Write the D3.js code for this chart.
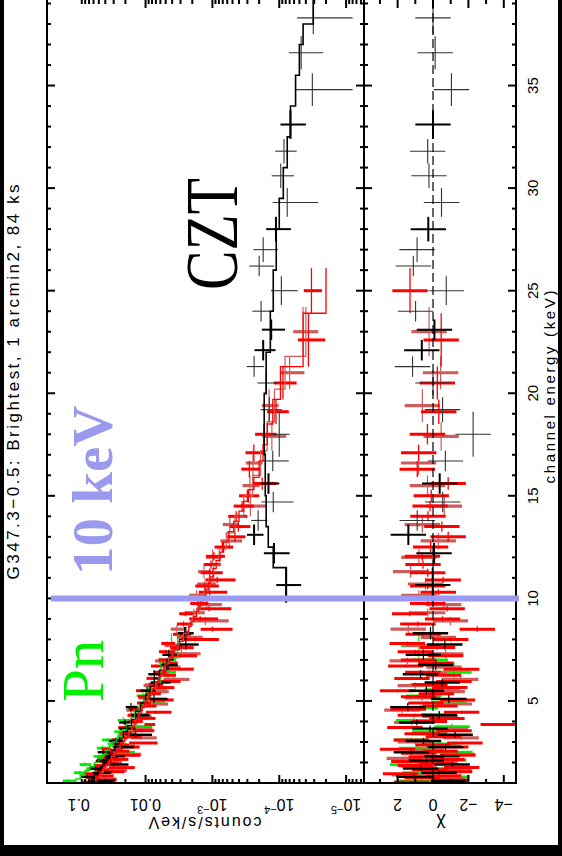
<!DOCTYPE html>
<html>
<head>
<meta charset="utf-8">
<script src="https://cdn.jsdelivr.net/npm/d3@7"></script>
<style>
  body { margin: 0; background: #000; }
  svg { display: block; }
</style>
</head>
<body>
<svg width="562" height="856"></svg>
<script>
// rows: [energy keV, half bin width, counts/s/keV, error, model]
var redRows = [
  [1.05,.05,0.073,0.014,0.056],[1.15,.05,0.0405,0.0135,0.054],[1.25,.05,0.060,0.013,0.052],
  [1.35,.05,0.0425,0.0125,0.050],[1.45,.05,0.070,0.012,0.048],[1.55,.05,0.032,0.0115,0.046],
  [1.65,.05,0.046,0.011,0.044],[1.75,.05,0.025,0.0105,0.042],[1.85,.05,0.050,0.010,0.040],
  [1.95,.05,0.035,0.0093,0.037],[2.05,.05,0.047,0.0088,0.035],[2.15,.05,0.0264,0.0083,0.033],
  [2.25,.05,0.034,0.0078,0.031],[2.35,.05,0.0195,0.0075,0.030],[2.45,.05,0.0336,0.007,0.028],
  [2.55,.05,0.0243,0.0068,0.027],[2.65,.05,0.039,0.0065,0.026],[2.75,.05,0.0184,0.0061,0.0245],
  [2.85,.05,0.0235,0.0059,0.0235],[2.95,.05,0.0121,0.0055,0.022],[3.1,.075,0.0267,0.0051,0.0205],
  [3.25,.075,0.0162,0.0048,0.019],[3.4,.075,0.0204,0.0044,0.0177],[3.55,.075,0.0116,0.0042,0.0166],
  [3.7,.075,0.0218,0.0039,0.0156],[3.85,.075,0.0088,0.0016,0.0147],[4.0,.075,0.0144,0.0034,0.0137],
  [4.15,.075,0.0104,0.0033,0.013],[4.3,.075,0.0155,0.0031,0.0124],[4.45,.075,0.0070,0.0029,0.0117],
  [4.6,.075,0.0151,0.0028,0.0112],[4.75,.075,0.0095,0.0026,0.0105],[4.9,.075,0.0109,0.0025,0.0099],
  [5.05,.075,0.0062,0.0024,0.0095],[5.2,.075,0.0107,0.0022,0.0089],[5.35,.075,0.0080,0.0021,0.0084],
  [5.5,.075,0.0119,0.0020,0.0079],[5.65,.075,0.0056,0.0019,0.0074],[5.8,.075,0.0072,0.0017,0.0069],
  [5.95,.075,0.0046,0.0016,0.0065],[6.1,.075,0.0081,0.0016,0.0062],[6.25,.075,0.0050,0.0015,0.0059],
  [6.4,.075,0.0063,0.0014,0.0055],[6.55,.075,0.0032,0.0013,0.0053],[6.7,.075,0.0070,0.0013,0.0050],
  [6.85,.075,0.0045,0.0012,0.0047],[7.0,.075,0.0053,0.0011,0.0044],[7.2,.1,0.0031,0.0014,0.0041],
  [7.4,.1,0.0050,0.0013,0.0037],[7.6,.1,0.0031,0.0012,0.0034],[7.8,.1,0.0047,0.0011,0.0031],
  [8.0,.1,0.0018,0.0010,0.0028],[8.25,.125,0.0030,0.0009,0.0025],[8.5,.125,0.0010,0.0005,0.00225],
  [8.75,.125,0.0027,0.0007,0.0021],[9.0,.125,0.00152,0.0007,0.0019],[9.25,.125,0.00254,0.0006,0.00175],
  [9.5,.125,0.00112,0.0006,0.0016],[9.75,.125,0.00165,0.0005,0.0015],[10.0,.125,0.00119,0.0005,0.0014],
  [10.3,.15,0.0011,0.0005,0.00125],[10.6,.15,0.0013,0.0005,0.00115],[10.9,.15,0.00085,0.0004,0.00108],
  [11.25,.2,0.0011,0.0004,0.00098],[11.65,.2,0.00105,0.0003,0.00088],[12.05,.2,0.00095,0.0003,0.00077],
  [12.5,.25,0.00071,0.00022,0.00068],[13.0,.25,0.00046,0.00014,0.00058],[13.5,.25,0.00041,0.00014,0.00048],
  [14.0,.25,0.00044,0.00014,0.00040],[14.5,.25,0.00036,0.00012,0.00034],[15.0,.3,0.00030,0.0001,0.00029],
  [15.6,.3,0.00018,0.00007,0.00024],[16.3,.4,0.00028,0.00009,0.00020],[17.1,.4,0.00024,0.00008,0.000175],
  [18.0,.5,0.00017,0.00006,0.000151],[19.1,.6,0.000112,0.00004,0.000125],[20.5,.8,8.8e-5,3.3e-5,9.6e-5],
  [22.6,1.3,3.66e-5,1.6e-5,4.4e-5],[25.0,1.1,3.3e-5,1.0e-5,2.0e-5]
];
var pinkRows = [
  [1.2,.1,0.040,0.0125,0.050],[1.4,.1,0.063,0.012,0.047],[1.6,.1,0.030,0.011,0.043],
  [1.8,.1,0.047,0.010,0.039],[2.0,.1,0.0315,0.009,0.035],[2.2,.1,0.045,0.008,0.032],
  [2.4,.1,0.0189,0.0073,0.029],[2.6,.1,0.029,0.0066,0.0265],[2.8,.1,0.0204,0.006,0.024],
  [3.0,.1,0.0269,0.0054,0.0215],[3.2,.1,0.0117,0.0049,0.0195],[3.4,.1,0.0187,0.0045,0.0178],
  [3.65,.15,0.0119,0.004,0.0158],[3.95,.15,0.0182,0.0035,0.014],[4.25,.15,0.0113,0.0032,0.0126],
  [4.55,.15,0.0165,0.0029,0.0114],[4.85,.15,0.0071,0.0025,0.0101],[5.15,.15,0.0105,0.0023,0.0091],
  [5.45,.15,0.0065,0.002,0.0081],[5.75,.15,0.0089,0.0018,0.0071],[6.05,.15,0.0038,0.0016,0.0063],
  [6.35,.15,0.0059,0.0014,0.0056],[6.65,.15,0.0043,0.0013,0.0051],[6.95,.15,0.0061,0.0011,0.0045],
  [7.3,.2,0.0029,0.0014,0.0039],[7.7,.2,0.0040,0.0012,0.0033],[8.1,.2,0.0024,0.0010,0.0027],
  [8.5,.2,0.0034,0.0008,0.00228],[8.9,.2,0.00127,0.0007,0.00196],[9.3,.2,0.0019,0.0006,0.00172],
  [9.7,.2,0.00122,0.0005,0.00152],[10.15,.25,0.00173,0.0005,0.00133],[10.7,.3,0.00129,0.0004,0.00112],
  [11.3,.3,0.00134,0.0003,0.00096],[12.0,.4,0.00099,0.00025,0.00079],[12.8,.4,0.00056,0.0002,0.00062],
  [13.6,.4,0.00055,0.00015,0.00046],[14.5,.5,0.00027,0.00011,0.00034],[15.5,.5,0.000275,0.00008,0.00025],
  [16.6,.6,0.000247,0.00007,0.00019],[17.9,.7,0.000129,0.00005,0.000152],[19.4,.8,0.000142,0.00004,0.000118],
  [21.0,.8,7.0e-5,2.8e-5,8.2e-5],[23.0,1.2,4.4e-5,1.8e-5,4.0e-5]
];
var greenRows = [
  [1.1,.1,0.143,0.031,0.11],[1.3,.1,0.0665,0.027,0.095],[1.5,.1,0.096,0.022,0.080],
  [1.7,.1,0.058,0.019,0.068],[1.9,.1,0.081,0.016,0.058],[2.1,.1,0.0375,0.014,0.050],
  [2.3,.1,0.048,0.012,0.044],[2.5,.1,0.0254,0.011,0.039],[2.7,.1,0.044,0.0098,0.035],
  [2.9,.1,0.028,0.0087,0.031],[3.1,.1,0.037,0.0077,0.0275],[3.3,.1,0.0196,0.0069,0.0245],
  [3.5,.1,0.0231,0.0062,0.022],[3.75,.15,0.0133,0.0053,0.019],[4.05,.15,0.0215,0.0046,0.0165],
  [4.35,.15,0.0131,0.0041,0.0145],[4.65,.15,0.015,0.0035,0.0125],[4.95,.15,0.0081,0.003,0.0108],
  [5.25,.15,0.0109,0.0027,0.0095],[5.55,.15,0.0071,0.0023,0.0083],[5.8,.1,0.0081,0.0021,0.0074],
  [6.4,.5,0.0046,0.0011,0.0059],[7.0,.1,0.0048,0.0013,0.0046],[7.7,.6,0.0041,0.0010,0.0033]
];
var blackRows = [
  [1.1,.1,0.049,0.018,0.065],[1.3,.1,0.075,0.016,0.058],[1.5,.1,0.047,0.0145,0.052],
  [1.7,.1,0.056,0.013,0.047],[1.9,.1,0.030,0.012,0.043],[2.1,.1,0.043,0.011,0.039],
  [2.3,.1,0.030,0.0098,0.035],[2.5,.1,0.043,0.009,0.032],[2.75,.15,0.0228,0.008,0.0285],
  [3.05,.15,0.0282,0.0069,0.0245],[3.35,.15,0.014,0.006,0.0215],[3.65,.15,0.0194,0.0052,0.0185],
  [3.95,.15,0.0203,0.0045,0.0162],[4.3,.2,0.0126,0.0039,0.014],[4.7,.2,0.0165,0.0033,0.0118],
  [5.1,.2,0.0075,0.0028,0.010],[5.5,.2,0.0095,0.0024,0.0086],[5.9,.2,0.0063,0.0021,0.0074],
  [6.3,.2,0.0074,0.0017,0.0062],[6.75,.25,0.0046,0.0013,0.0048],[7.25,.25,0.0045,0.0011,0.0039],
  [7.75,.25,0.0025,0.0009,0.0031],[8.3,.3,0.0026,0.0007,0.0025]
];
var cztThick = [
  [10.65,.85,7.9e-5,3.2e-5,7.85e-5],[12.2,.5,1.2e-4,5e-5,1.23e-4],[13.1,.5,2.38e-4,6.6e-5,1.46e-4],
  [15.6,.5,1.45e-4,4.5e-5,1.62e-4],[22.1,.5,1.74e-4,6e-5,1.36e-4],[23.1,.5,1.32e-4,5e-5,1.36e-4],
  [28.0,.6,1.12e-4,4.5e-5,1.0e-4],[33.1,.7,6.8e-5,2.8e-5,6.8e-5]
];
var cztThin = [
  [13.8,.5,2.07e-4,5.6e-5,1.57e-4],[14.7,.5,1.23e-4,6.2e-5,1.57e-4],[16.7,.5,1.25e-4,5.3e-5,1.62e-4],
  [18.0,1.1,1.0e-4,3.0e-5,1.68e-4],[19.2,.6,1.41e-4,5.0e-5,1.68e-4],[20.5,.6,1.57e-4,5.5e-5,1.57e-4],
  [21.3,.5,2.38e-4,7e-5,1.57e-4],[24.0,.5,1.87e-4,6.5e-5,1.23e-4],[25.0,.7,9.3e-5,4e-5,1.23e-4],
  [26.2,.5,2.0e-4,8e-5,1.11e-4],[27.0,.6,1.74e-4,7e-5,1.11e-4],[29.3,.7,7.6e-5,5e-5,1.0e-4],
  [30.6,.6,9.5e-5,3.5e-5,8.7e-5],[31.8,.6,8.5e-5,3e-5,7.6e-5],[34.8,.8,3.2e-5,2.4e-5,5.7e-5],
  [36.6,.8,4.7e-5,2.5e-5,5.0e-5],[38.3,.8,3.1e-5,2.3e-5,3.1e-5]
];
// CZT model histogram: bin edges and values
var cztEdges = [9.8,11.5,12.5,13.5,15,17,20,22,24,26,28,29.5,31,32.5,34,35.5,37,38,39.2];
var cztModel = [7.85e-5,1.23e-4,1.46e-4,1.57e-4,1.62e-4,1.68e-4,1.57e-4,1.36e-4,1.23e-4,
                1.11e-4,1.0e-4,8.7e-5,7.6e-5,6.8e-5,5.7e-5,5.0e-5,4.4e-5,3.1e-5];

var energyTicks = [5, 10, 15, 20, 25, 30, 35];
var countTicks = [0.1, 0.01, 1e-3, 1e-4, 1e-5];
var countLabels = [["0.1",""],["0.01",""],["10","\u22123"],["10","\u22124"],["10","\u22125"]];
var chiTicks = [2, 0, -2, -4];

var svg = d3.select("svg");
svg.append("rect").attr("x",4).attr("y",0).attr("width",554).attr("height",845).attr("fill","#fff");

var yE = d3.scaleLinear().domain([1, 39.17]).range([783, 0]);
var xC = d3.scaleLog().domain([0.298, 5.4e-6]).range([47, 364]);
var xR = d3.scaleLinear().domain([3.9, -4.69]).range([364, 516]);

var defs = svg.append("defs");
defs.append("clipPath").attr("id","cc").append("rect").attr("x",47).attr("y",0).attr("width",317).attr("height",783);
defs.append("clipPath").attr("id","cr").append("rect").attr("x",364).attr("y",0).attr("width",152).attr("height",783);

var gC = svg.append("g").attr("clip-path","url(#cc)");
var gR = svg.append("g").attr("clip-path","url(#cr)");

var chi = r => (r[2] - r[4]) / r[3];
var lo = r => Math.max(r[2] - r[3], 1e-7);

function drawSet(rows, color, sw, hw) {
    var a = gC.append("g").attr("stroke", color);
    a.selectAll(".v").data(rows).join("line").attr("stroke-width", sw)
        .attr("x1", d => xC(d[2])).attr("x2", d => xC(d[2]))
        .attr("y1", d => yE(d[0] - d[1])).attr("y2", d => yE(d[0] + d[1]));
    a.selectAll(".h").data(rows).join("line").attr("class","h").attr("stroke-width", hw)
        .attr("x1", d => xC(d[2] + d[3])).attr("x2", d => xC(lo(d)))
        .attr("y1", d => yE(d[0])).attr("y2", d => yE(d[0]));
    var b = gR.append("g").attr("stroke", color);
    b.selectAll(".v").data(rows).join("line").attr("stroke-width", sw)
        .attr("x1", d => xR(chi(d))).attr("x2", d => xR(chi(d)))
        .attr("y1", d => yE(d[0] - d[1])).attr("y2", d => yE(d[0] + d[1]));
    b.selectAll(".h").data(rows).join("line").attr("class","h").attr("stroke-width", hw)
        .attr("x1", d => xR(chi(d) + 1)).attr("x2", d => xR(chi(d) - 1))
        .attr("y1", d => yE(d[0])).attr("y2", d => yE(d[0]));
}

var step = d3.line().x(d => xC(d[1])).y(d => yE(d[0]));
function drawModel(rows, color, sw) {
    var pts = rows.flatMap(r => [[r[0] - r[1], r[4]], [r[0] + r[1], r[4]]]);
    gC.append("path").attr("fill","none").attr("stroke",color).attr("stroke-width",sw)
        .attr("d", step(pts));
}

drawSet(greenRows, "#00ee00", 1.2, 2.8);
drawSet(pinkRows, "#cd5c5c", 1.2, 3.2);
drawSet(redRows, "#ff0000", 1.3, 3);
drawSet(blackRows, "#000", 1.2, 2.4);
drawSet(cztThin, "#333", 1.1, 1.1);
drawSet(cztThick, "#000", 2, 2);

drawModel(greenRows, "#00cc00", 1.2);
drawModel(blackRows, "#000", 1.3);
drawModel(pinkRows, "#cd5c5c", 1.2);
drawModel(redRows, "#ff0000", 1.3);
var cztPts = cztModel.flatMap((m, i) => [[cztEdges[i], m], [cztEdges[i + 1], m]]);
gC.append("path").attr("fill","none").attr("stroke","#000").attr("stroke-width",1.6).attr("d", step(cztPts));

// zero line of residuals
gR.append("line").attr("x1", xR(0)).attr("x2", xR(0)).attr("y1", 0).attr("y2", 783)
    .attr("stroke","#000").attr("stroke-width",1.2).attr("stroke-dasharray","9,4");

// frames
var ax = svg.append("g").attr("stroke","#000").attr("stroke-width",2).attr("fill","none");
ax.append("rect").attr("x",47).attr("y",-1).attr("width",317).attr("height",784);
ax.append("rect").attr("x",364).attr("y",-1).attr("width",152).attr("height",784);

// energy ticks on every vertical edge
var eAll = d3.range(2, 40);
[[47, 1], [364, -1], [364, 1], [516, -1]].forEach(function(e) {
    ax.selectAll(null).data(eAll).join("line")
        .attr("x1", e[0]).attr("x2", d => e[0] + e[1] * (d % 5 ? 4 : 8))
        .attr("y1", d => yE(d)).attr("y2", d => yE(d));
});
// counts ticks
var cMinor = [];
[0.01, 1e-3, 1e-4, 1e-5, 1e-6].forEach(function(b) {
    for (var k = 1; k < 10; k++) { var v = b * k; if (v < 0.298 && v > 5.4e-6) cMinor.push([v, k == 1]); }
});
[[783, -1], [0, 1]].forEach(function(e) {
    ax.selectAll(null).data(cMinor).join("line")
        .attr("x1", d => xC(d[0])).attr("x2", d => xC(d[0]))
        .attr("y1", e[0]).attr("y2", d => e[0] + e[1] * (d[1] ? 8 : 4));
    ax.selectAll(null).data(d3.range(-4, 4)).join("line")
        .attr("x1", d => xR(d)).attr("x2", d => xR(d))
        .attr("y1", e[0]).attr("y2", d => e[0] + e[1] * (d % 2 ? 4 : 8));
});

// 10 keV marker
svg.append("line").attr("x1",51).attr("x2",519).attr("y1",yE(10)).attr("y2",yE(10))
    .attr("stroke","#9a9af2").attr("stroke-width",6);

// text
var sans = "'Liberation Sans', Arial, sans-serif";
var serif = "'Liberation Serif', 'Times New Roman', serif";
svg.selectAll(null).data(energyTicks).join("text")
    .attr("transform", d => "translate(538," + yE(d) + ") rotate(-90)")
    .attr("text-anchor","middle").attr("font-family",sans).attr("font-size",15).text(d => d);
svg.append("text").attr("transform","translate(555,387) rotate(-90)")
    .attr("text-anchor","middle").attr("font-family",sans).attr("font-size",15)
    .attr("textLength",193).attr("lengthAdjust","spacing").text("channel energy (keV)");

var cl = svg.selectAll(null).data(countTicks).join("text")
    .attr("transform", (d, i) => "translate(" + xC(d) + ",799) rotate(180)")
    .attr("text-anchor","middle").attr("font-family",sans).attr("font-size",16);
cl.append("tspan").text((d, i) => countLabels[i][0]);
cl.append("tspan").attr("dy",-7).attr("font-size",11).text((d, i) => countLabels[i][1]);

svg.selectAll(null).data(chiTicks).join("text")
    .attr("transform", d => "translate(" + xR(d) + ",799) rotate(180)")
    .attr("text-anchor","middle").attr("font-family",sans).attr("font-size",16)
    .text(d => d < 0 ? "\u2212" + (-d) : d);

svg.append("text").attr("transform","translate(205,817) rotate(180)")
    .attr("text-anchor","middle").attr("font-family",sans).attr("font-size",16)
    .attr("textLength",113).attr("lengthAdjust","spacing").text("counts/s/keV");
svg.append("text").attr("transform","translate(441,818) rotate(180)")
    .attr("text-anchor","middle").attr("font-family",sans).attr("font-size",18).text("\u03c7");

svg.append("text").attr("transform","translate(19,382) rotate(-90)")
    .attr("text-anchor","middle").attr("font-family",sans).attr("font-size",17)
    .attr("textLength",395).attr("lengthAdjust","spacing")
    .text("G347.3\u22120.5: Brightest, 1 arcmin2, 84 ks");

svg.append("text").attr("transform","translate(237,290) rotate(-90)")
    .attr("font-family",serif).attr("font-size",74).attr("fill","#000")
    .attr("textLength",112).attr("lengthAdjust","spacingAndGlyphs").text("CZT");
svg.append("text").attr("transform","translate(112,575) rotate(-90)")
    .attr("font-family",serif).attr("font-weight","bold").attr("font-size",57)
    .attr("fill","#9999ee").text("10 keV");
svg.append("text").attr("transform","translate(103,702) rotate(-90)")
    .attr("font-family",serif).attr("font-size",59).attr("fill","#00ee00").text("Pn");
</script>
</body>
</html>
